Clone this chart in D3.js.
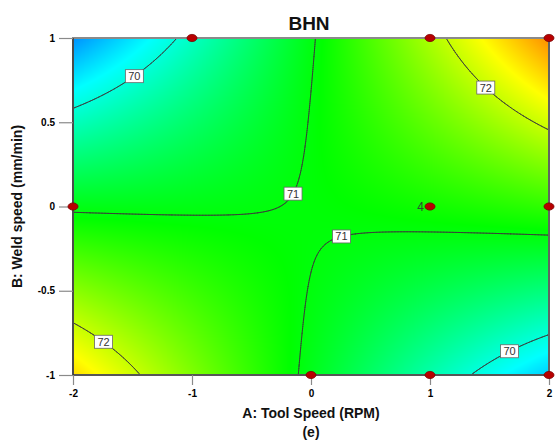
<!DOCTYPE html>
<html>
<head>
<meta charset="utf-8">
<script src="https://cdn.jsdelivr.net/npm/d3@7"></script>
<style>
  html, body { margin: 0; padding: 0; background: #fff; }
  svg { display: block; font-family: Arial, "Liberation Sans", sans-serif; }
</style>
</head>
<body>
<svg id="chart" width="555" height="440"></svg>
<script>
// ---------------- data ----------------
// Fitted quadratic response-surface model for BHN (coded units)
const modelTerms = ["Intercept", "A", "B", "AB", "A^2", "B^2"];
const modelCoefs = [71.02, 0.083, 0.022, 0.801, 0.023, -0.075];
// contour levels drawn
const contourLevels = [70, 71, 72];
// design points (coded A, coded B, replicate count)
const designA = [-1, 1, 2, -2, 1, 2, 0, 1, 2];
const designB = [1, 1, 1, 0, 0, 0, -1, -1, -1];
const designCount = [1, 1, 1, 1, 4, 1, 1, 1, 1];
// label anchor hints (coded units), one per contour label
const labelLevel = [70, 72, 71, 71, 72, 70];
const labelHintA = [-1.5, 1.5, -0.18, 0.24, -1.73, 1.64];
const labelHintB = [0.79, 0.73, 0.09, -0.14, -0.79, -0.81];
// axes
const xDomain = [-2, 2];
const yDomain = [-1, 1];
const xTicks = [-2, -1, 0, 1, 2];
const yTicks = [-1, -0.5, 0, 0.5, 1];
const colorDomain = [68.6, 73.5];
const titleText = "BHN";
const xTitle = "A: Tool Speed (RPM)";
const yTitle = "B: Weld speed (mm/min)";
const caption = "(e)";

// ---------------- model ----------------
function bhn(a, b) {
  const c = modelCoefs;
  return c[0] + c[1] * a + c[2] * b + c[3] * a * b + c[4] * a * a + c[5] * b * b;
}

// ---------------- layout ----------------
const svg = d3.select("#chart");
const L = 73, R = 549, T = 38, B = 375;
const x = d3.scaleLinear().domain(xDomain).range([L, R]);
const y = d3.scaleLinear().domain(yDomain).range([B, T]);

const ramp = d3.scaleLinear()
  .domain(d3.range(5).map(i => colorDomain[0] + i * (colorDomain[1] - colorDomain[0]) / 4))
  .range(["#0000ff", "#00ffff", "#00ff00", "#ffff00", "#ff0000"])
  .clamp(true);

// ---------------- heat map ----------------
const W = R - L, H = B - T;
const canvas = document.createElement("canvas");
canvas.width = W; canvas.height = H;
const ctx = canvas.getContext("2d");
const img = ctx.createImageData(W, H);
for (let j = 0; j < H; j++) {
  const bv = y.invert(T + j + 0.5);
  for (let i = 0; i < W; i++) {
    const av = x.invert(L + i + 0.5);
    const c = d3.rgb(ramp(bhn(av, bv)));
    const k = (j * W + i) * 4;
    img.data[k] = c.r; img.data[k + 1] = c.g; img.data[k + 2] = c.b; img.data[k + 3] = 255;
  }
}
ctx.putImageData(img, 0, 0);
svg.append("image")
  .attr("x", L).attr("y", T).attr("width", W).attr("height", H)
  .attr("preserveAspectRatio", "none")
  .attr("href", canvas.toDataURL());

// ---------------- contour lines (marching squares) ----------------
const nx = 320, ny = 160;
const ga = d3.range(nx + 1).map(i => xDomain[0] + (xDomain[1] - xDomain[0]) * i / nx);
const gb = d3.range(ny + 1).map(j => yDomain[0] + (yDomain[1] - yDomain[0]) * j / ny);
const grid = gb.map(bv => ga.map(av => bhn(av, bv)));

function isoSegments(level) {
  const segs = [];
  const lerp = (p, q, vp, vq) => {
    const t = (level - vp) / (vq - vp);
    return [p[0] + t * (q[0] - p[0]), p[1] + t * (q[1] - p[1])];
  };
  for (let j = 0; j < ny; j++) {
    for (let i = 0; i < nx; i++) {
      const P = [[ga[i], gb[j]], [ga[i + 1], gb[j]], [ga[i + 1], gb[j + 1]], [ga[i], gb[j + 1]]];
      const V = [grid[j][i], grid[j][i + 1], grid[j + 1][i + 1], grid[j + 1][i]];
      const pts = [];
      for (let e = 0; e < 4; e++) {
        const v0 = V[e], v1 = V[(e + 1) % 4];
        if ((v0 < level) !== (v1 < level)) pts.push(lerp(P[e], P[(e + 1) % 4], v0, v1));
      }
      if (pts.length === 2) segs.push(pts);
      else if (pts.length === 4) { segs.push([pts[0], pts[1]]); segs.push([pts[2], pts[3]]); }
    }
  }
  return segs;
}

const segsByLevel = {};
contourLevels.forEach(lv => { segsByLevel[lv] = isoSegments(lv); });

const gLines = svg.append("g");
contourLevels.forEach(lv => {
  const d = segsByLevel[lv].map(s => `M${x(s[0][0])},${y(s[0][1])}L${x(s[1][0])},${y(s[1][1])}`).join("");
  gLines.append("path")
    .attr("d", d)
    .attr("fill", "none")
    .attr("stroke", "#3a3a3a")
    .attr("stroke-width", 0.9)
    .attr("stroke-linecap", "round");
});

// ---------------- frame & axes ----------------
svg.append("rect")
  .attr("x", L).attr("y", T).attr("width", W).attr("height", H)
  .attr("fill", "none").attr("stroke", "#8a8a8a").attr("stroke-width", 2);
svg.append("line").attr("x1", R).attr("x2", R).attr("y1", T).attr("y2", B)
  .attr("stroke", "#555").attr("stroke-width", 1.5);
svg.append("line").attr("x1", L).attr("x2", L).attr("y1", T).attr("y2", B)
  .attr("stroke", "#222").attr("stroke-width", 1.2);
svg.append("line").attr("x1", L).attr("x2", R).attr("y1", B).attr("y2", B)
  .attr("stroke", "#222").attr("stroke-width", 1.2);

const yAxis = svg.append("g").attr("transform", `translate(${L},0)`)
  .call(d3.axisLeft(y).tickValues(yTicks).tickSize(14).tickPadding(4).tickFormat(d => String(d)));
const xAxis = svg.append("g").attr("transform", `translate(0,${B})`)
  .call(d3.axisBottom(x).tickValues(xTicks).tickSize(10).tickPadding(5).tickFormat(d => String(d)));
[yAxis, xAxis].forEach(g => {
  g.select(".domain").remove();
  g.selectAll(".tick line").attr("stroke", "#8a8a8a").attr("stroke-width", 1.2);
  g.selectAll(".tick text").attr("fill", "#000").attr("font-size", 10).attr("font-weight", "bold")
    .attr("font-family", "Arial, 'Liberation Sans', sans-serif");
});

// ---------------- contour labels ----------------
const gLab = svg.append("g");
labelLevel.forEach((lv, k) => {
  let best = null, bd = Infinity;
  const hx = x(labelHintA[k]), hy = y(labelHintB[k]);
  segsByLevel[lv].forEach(s => {
    const px = x((s[0][0] + s[1][0]) / 2), py = y((s[0][1] + s[1][1]) / 2);
    const dd = (px - hx) ** 2 + (py - hy) ** 2;
    if (dd < bd) { bd = dd; best = [px, py]; }
  });
  const g = gLab.append("g").attr("transform", `translate(${best[0]},${best[1]})`);
  g.append("rect").attr("x", -9).attr("y", -6.5).attr("width", 18).attr("height", 13)
    .attr("fill", "#fff").attr("stroke", "#666").attr("stroke-width", 0.8);
  g.append("text").attr("text-anchor", "middle").attr("dy", "0.36em")
    .attr("font-size", 11).attr("fill", "#333").text(String(lv));
});

// ---------------- design points ----------------
const gPts = svg.append("g");
designA.forEach((a, k) => {
  const b = designB[k];
  gPts.append("ellipse")
    .attr("cx", x(a)).attr("cy", y(b)).attr("rx", 5).attr("ry", 3.6)
    .attr("fill", "#b80000").attr("stroke", "#7a0000").attr("stroke-width", 0.8);
  if (designCount[k] > 1) {
    gPts.append("text").attr("x", x(a) - 6).attr("y", y(b)).attr("dy", "0.36em")
      .attr("text-anchor", "end").attr("font-size", 12).attr("fill", "#2f4f2f")
      .text(String(designCount[k]));
  }
});

// ---------------- titles ----------------
svg.append("text").attr("x", 309).attr("y", 30).attr("text-anchor", "middle")
  .attr("font-size", 19).attr("font-weight", "bold").attr("fill", "#111").text(titleText);
svg.append("text").attr("x", (L + R) / 2).attr("y", 418).attr("text-anchor", "middle")
  .attr("font-size", 14).attr("font-weight", "bold").attr("fill", "#111").text(xTitle);
svg.append("text").attr("x", (L + R) / 2).attr("y", 437).attr("text-anchor", "middle")
  .attr("font-size", 14).attr("font-weight", "bold").attr("fill", "#111").text(caption);
svg.append("text").attr("transform", `translate(22,${(T + B) / 2}) rotate(-90)`)
  .attr("text-anchor", "middle")
  .attr("font-size", 14).attr("font-weight", "bold").attr("fill", "#111").text(yTitle);
</script>
</body>
</html>
